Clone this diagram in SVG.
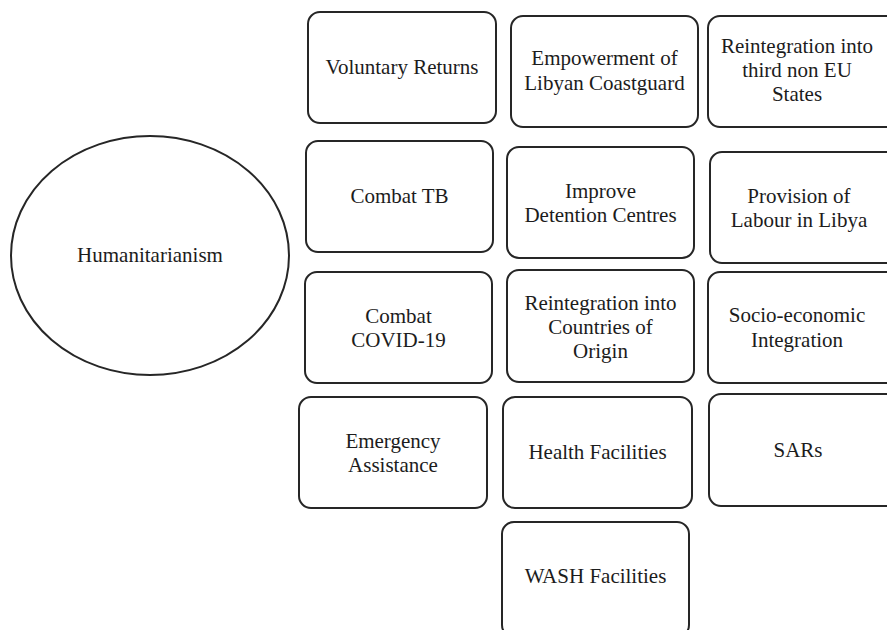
<svg xmlns="http://www.w3.org/2000/svg" width="887" height="630" viewBox="0 0 887 630">
  <style>
    .box { fill: #ffffff; stroke: #262626; stroke-width: 2; }
    .lbl { font-family: "Liberation Serif", "Times New Roman", serif; font-size: 21px; fill: #1c1c1c; text-anchor: middle; }
  </style>
  <rect x="0" y="0" width="887" height="630" fill="#ffffff"/>

  <g id="humanitarianism">
    <ellipse class="box" cx="150" cy="255.5" rx="139" ry="119.5"/>
    <text class="lbl" x="150" y="262">Humanitarianism</text>
  </g>

  <!-- column 1 -->
  <g id="voluntary-returns">
    <rect class="box" x="308" y="12" width="188" height="111" rx="12"/>
    <text class="lbl" x="402" y="74">Voluntary Returns</text>
  </g>
  <g id="combat-tb">
    <rect class="box" x="306" y="141" width="187" height="111" rx="12"/>
    <text class="lbl" x="399.5" y="203">Combat TB</text>
  </g>
  <g id="combat-covid">
    <rect class="box" x="305" y="272" width="187" height="111" rx="12"/>
    <text class="lbl" x="398.5" y="323">Combat</text>
    <text class="lbl" x="398.5" y="347">COVID-19</text>
  </g>
  <g id="emergency-assistance">
    <rect class="box" x="299" y="397" width="188" height="111" rx="12"/>
    <text class="lbl" x="393" y="448">Emergency</text>
    <text class="lbl" x="393" y="472">Assistance</text>
  </g>

  <!-- column 2 -->
  <g id="empowerment-coastguard">
    <rect class="box" x="511" y="16" width="187" height="111" rx="12"/>
    <text class="lbl" x="604.5" y="65">Empowerment of</text>
    <text class="lbl" x="604.5" y="90">Libyan Coastguard</text>
  </g>
  <g id="improve-detention">
    <rect class="box" x="507" y="147" width="187" height="111" rx="12"/>
    <text class="lbl" x="600.5" y="198">Improve</text>
    <text class="lbl" x="600.5" y="222">Detention Centres</text>
  </g>
  <g id="reintegration-origin">
    <rect class="box" x="507" y="270" width="187" height="112" rx="12"/>
    <text class="lbl" x="600.5" y="310">Reintegration into</text>
    <text class="lbl" x="600.5" y="334">Countries of</text>
    <text class="lbl" x="600.5" y="358">Origin</text>
  </g>
  <g id="health-facilities">
    <rect class="box" x="503" y="397" width="189" height="111" rx="12"/>
    <text class="lbl" x="597.5" y="459">Health Facilities</text>
  </g>
  <g id="wash-facilities">
    <rect class="box" x="502" y="522" width="187" height="115" rx="12"/>
    <text class="lbl" x="595.5" y="583">WASH Facilities</text>
  </g>

  <!-- column 3 -->
  <g id="reintegration-third-states">
    <rect class="box" x="708" y="16" width="190" height="111" rx="12"/>
    <text class="lbl" x="797" y="53">Reintegration into</text>
    <text class="lbl" x="797" y="77">third non EU</text>
    <text class="lbl" x="797" y="101">States</text>
  </g>
  <g id="provision-labour">
    <rect class="box" x="710" y="152" width="190" height="111" rx="12"/>
    <text class="lbl" x="799" y="203">Provision of</text>
    <text class="lbl" x="799" y="227">Labour in Libya</text>
  </g>
  <g id="socio-economic">
    <rect class="box" x="708" y="272" width="190" height="111" rx="12"/>
    <text class="lbl" x="797" y="322">Socio-economic</text>
    <text class="lbl" x="797" y="347">Integration</text>
  </g>
  <g id="sars">
    <rect class="box" x="709" y="394" width="190" height="112" rx="12"/>
    <text class="lbl" x="798" y="457">SARs</text>
  </g>

  <g id="connectors"></g>
</svg>
